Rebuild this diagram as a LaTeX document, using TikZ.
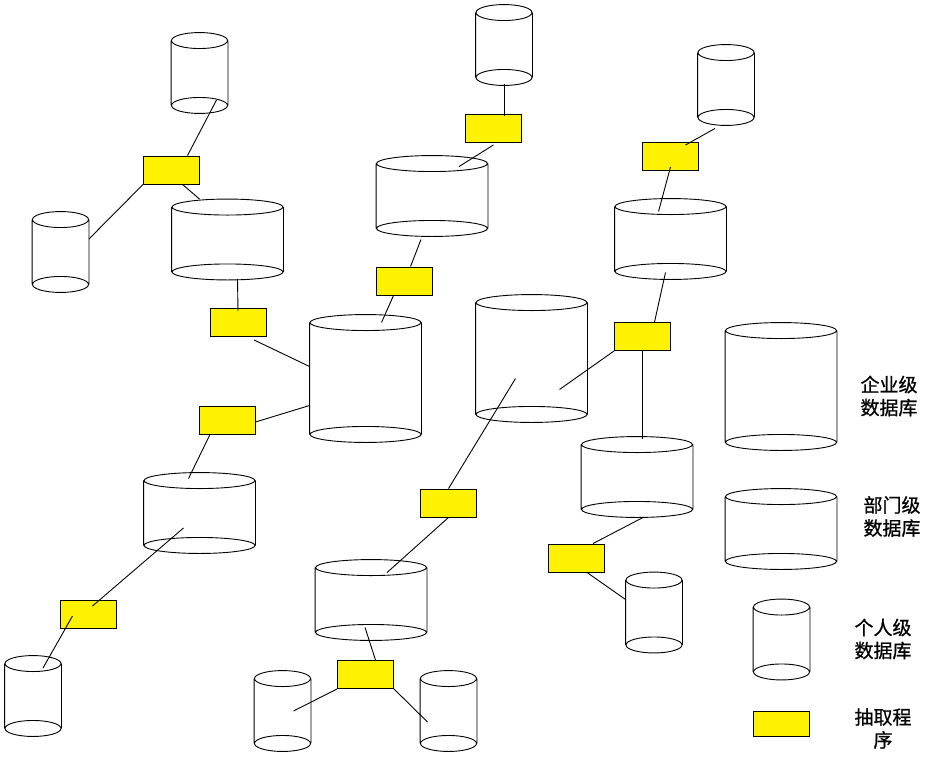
\documentclass[tikz,border=0pt]{standalone}
\usepackage{fontspec}
\newfontfamily\cjk[FakeBold=0.8]{Noto Sans CJK SC}
\usepackage{tikz}
\usetikzlibrary{
    calc,
    positioning
}
\tikzset{
    every path/.style={line width=.9pt},
    db/.style 2 args={inner sep=0, minimum width=#1pt, minimum height=#2pt,
        append after command={\pgfextra{
            \draw ([yshift=-8pt]\tikzlastnode.north) ellipse ({0.5*#1pt} and 8pt)
                  ([yshift=8pt]\tikzlastnode.south) ellipse ({0.5*#1pt} and 8pt)
                  ([yshift=-8pt]\tikzlastnode.north west) -- ([yshift=8pt]\tikzlastnode.south west)
                  ([yshift=-8pt]\tikzlastnode.north east) -- ([yshift=8pt]\tikzlastnode.south east);}}},
    personal/.style={db={56}{80}},
    dept/.style={db={111}{80}},
    ent/.style={db={111}{127}},
    extract/.style={draw, fill=yellow, inner sep=0,
        minimum width=56pt, minimum height=28pt},
    legend/.style={font=\cjk\fontsize{19}{23}\selectfont, align=center},
}

\begin{document}
\begin{tikzpicture}[x=1pt,y=-1pt]
    \useasboundingbox (0,0) rectangle (925,758);
    % databases
    \node[personal] (p1) at (199.5,73) {};
    \node[personal] (p2) at (60.5,252) {};
    \node[personal] (p3) at (504,45) {};
    \node[personal] (p4) at (726,85) {};
    \node[personal] (p5) at (33,696) {};
    \node[personal] (p6) at (282.5,711) {};
    \node[personal] (p7) at (448.5,711) {};
    \node[personal] (p8) at (654,612.5) {};
    \node[dept] (d1) at (227.5,239.5) {};
    \node[dept] (d2) at (432,196) {};
    \node[dept] (d3) at (670.5,239) {};
    \node[dept] (d4) at (199.5,513) {};
    \node[dept] (d5) at (371,600) {};
    \node[dept] (d6) at (637,477) {};
    \node[ent] (e1) at (365.5,378.5) {};
    \node[ent] (e2) at (531.5,358.5) {};
    % extraction programs
    \node[extract] (b1) at (171.5,170) {};
    \node[extract] (b2) at (493.5,128.5) {};
    \node[extract] (b3) at (670.5,156) {};
    \node[extract] (b4) at (404.5,281) {};
    \node[extract] (b5) at (238,322.5) {};
    \node[extract] (b6) at (227,420) {};
    \node[extract] (b7) at (88.5,614) {};
    \node[extract] (b8) at (642.5,336.5) {};
    \node[extract] (b9) at (448.5,503) {};
    \node[extract] (b10) at (576,558) {};
    \node[extract] (b11) at (365.5,674.5) {};
    % legend
    \node[ent] (el) at (781,386.5) {};
    \node[dept] (dl) at (781,529) {};
    \node[personal] (pl) at (781.5,639.5) {};
    \node[extract, minimum height=25pt] (bl) at (781,723.5) {};
    \node[legend] (lblent) at (889,396) {企业级\\数据库};
    \node[legend] (lbldept) at (892,516.5) {部门级\\数据库};
    \node[legend] (lblpers) at (883,639) {个人级\\数据库};
    \node[legend] (lblext) at (883,728.5) {抽取程\\序};
    % connections
    \draw ($(p1)+(17,27)$) -- ($(b1.north)+(16,0)$);
    \draw (b1.south west) -- ($(p2.east)+(0,-13)$);
    \draw ($(b1.south)+(11,0)$) -- ($(d1.north)+(-28,0)$);
    \draw ($(d1.south)+(10,-1)$) -- ($(b5.north)+(0,3)$);
    \draw ($(b5.south)+(16,3)$) -- ($(e1.west)+(0,-12)$);
    \draw ($(b6.east)+(0,2)$) -- ($(e1.west)+(0,27)$);
    \draw ($(b6.south)+(-17,0)$) -- ($(d4.north)+(-11,6)$);
    \draw ($(d4)+(-16,15)$) -- ($(b7)+(4,-8)$);
    \draw ($(b7)+(-16,2)$) -- ($(p5)+(10,-28)$);
    \draw ($(p3.south)+(0,-1)$) -- ($(b2.north)+(10.5,2)$);
    \draw ($(b2.south)+(0,2)$) -- ($(d2.north)+(27,11)$);
    \draw ($(d2.south)+(-11,3)$) -- ($(b4.north)+(6,0)$);
    \draw ($(b4.south)+(-11,0)$) -- ($(e1.north)+(16,8)$);
    \draw ($(p4.south)+(-11,3)$) -- ($(b3)+(15,-11)$);
    \draw ($(b3)+(0,11)$) -- ($(d3.north)+(-12,13)$);
    \draw ($(d3.south)+(-5,-7)$) -- ($(b8.north)+(12,0)$);
    \draw (b8.south west) -- ($(e2)+(28,31)$);
    \draw (b8.south) -- ($(d6.north)+(5.5,2)$);
    \draw ($(d6.south)+(6,0)$) -- ($(b10.north)+(17,0)$);
    \draw ($(b10.south)+(11,0)$) -- ($(p8.west)+(0,-13)$);
    \draw ($(e2)+(-16,20)$) -- (b9.north);
    \draw (b9.south) -- ($(d5.north)+(16,13)$);
    \draw ($(d5.south)+(-6,-13)$) -- ($(b11.north)+(10,0)$);
    \draw (b11.south west) -- ($(p6)+(11,0)$);
    \draw (b11.south east) -- ($(p7)+(-21,11)$);
\end{tikzpicture}
\end{document}
